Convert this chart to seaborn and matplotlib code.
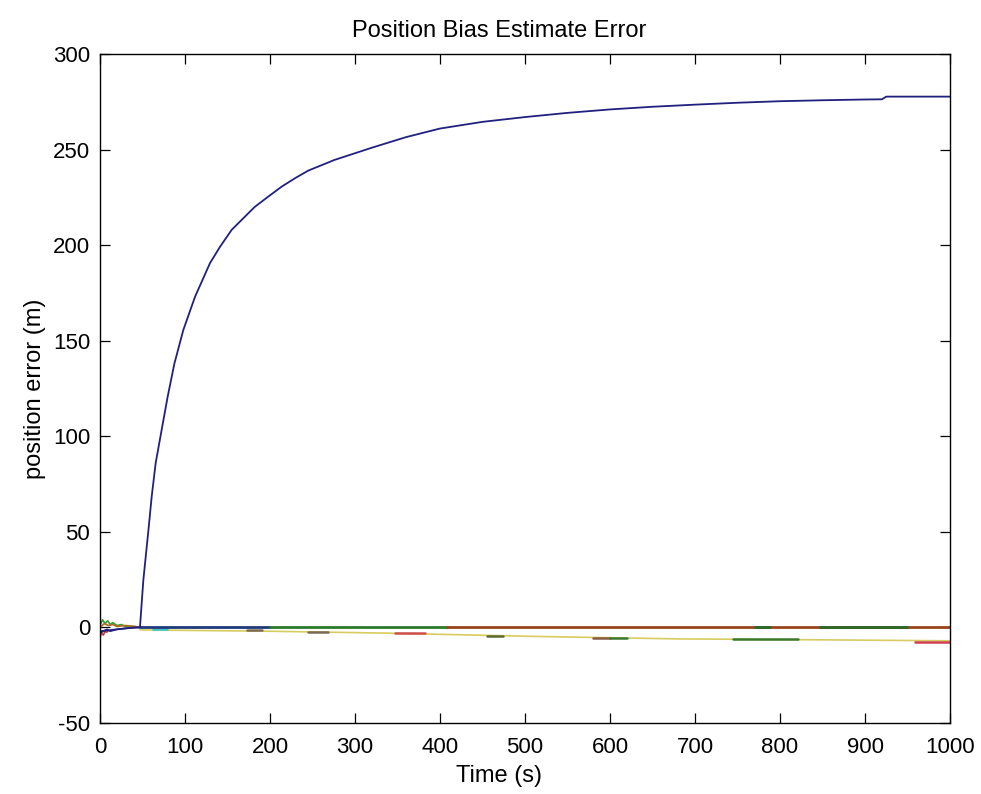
import matplotlib
matplotlib.use("Agg")
import matplotlib.pyplot as plt
import seaborn as sns

# ---- data ----
t_main = [0, 10, 20, 30, 40, 47, 51, 57, 60.8, 65.5, 72.5, 79.6, 87.5, 98, 111.8, 129.4, 141,
          154.9, 182, 198, 213.7, 229.4, 245, 276, 320, 360, 400, 450, 500, 550, 600, 650,
          700, 750, 800, 850, 900, 920, 925, 1000]
v_main = [-2, -1.5, -1, -0.5, 0, 0, 24.8, 51, 68.4, 86, 103.3, 120.7, 138, 155.6, 173, 190.6, 199,
          208, 220, 225.4, 230.6, 235, 239, 244.6, 251, 256.5, 261, 264.5, 267, 269.2, 271, 272.4,
          273.5, 274.5, 275.3, 275.8, 276.2, 276.3, 277.7, 277.7]

# noisy start (t < 50)
t_green_start = [0, 3, 6, 9, 12, 15, 20, 25, 30, 40, 47]
v_green_start = [1, 4, 2, 3.5, 1.5, 2.5, 1, 1.5, 0.5, 0.5, 0]
t_orange_start = [0, 5, 10, 15, 20, 30, 40, 50]
v_orange_start = [0, 2, 1, 1.5, 0.5, 1, 0.5, 0]
t_navy_start = [0, 4, 8, 12, 20, 30, 47]
v_navy_start = [-3, -2, -1, -2, -1, -0.5, 0]
t_red_start = [0, 2, 4, 6, 8, 10]
v_red_start = [-5, -3, -4, -2, -2.5, -1.5]

# lines near zero
t_navy_zero = [47, 200]
v_navy_zero = [0.3, 0.3]
t_green_zero = [200, 408]
v_green_zero = [0.3, 0.3]
t_brown_zero = [408, 1000]
v_brown_zero = [0.3, 0.3]
green_zero_segments = [([770, 788], [0.3, 0.3]), ([847, 949], [0.3, 0.3])]

# slowly drifting line
t_yellow = [47, 200, 340, 500, 680, 850, 1000]
v_yellow = [-1.3, -2.0, -3.0, -4.6, -6.0, -6.5, -7.0]

# short overlaid dashes
dash_t = [[62, 79], [173, 190], [245, 268], [347, 382], [455, 474],
          [580, 600], [600, 620], [745, 821], [959, 1000]]
dash_v = [[-1.0, -1.0], [-1.5, -1.5], [-2.2, -2.2], [-2.9, -2.9], [-4.3, -4.3],
          [-5.6, -5.6], [-5.6, -5.6], [-6.2, -6.2], [-7.4, -7.4]]
dash_c = ["#40c0c8", "#7a6a55", "#7a6a55", "#d05050", "#5a6a30",
          "#8a5a45", "#3a7a30", "#3a7a30", "#d04050"]

x_ticks = [0, 100, 200, 300, 400, 500, 600, 700, 800, 900, 1000]
y_ticks = [-50, 0, 50, 100, 150, 200, 250, 300]

# ---- plot ----
sns.set_style("white")
plt.rcParams["font.family"] = ["Liberation Sans", "DejaVu Sans"]
plt.rcParams["axes.unicode_minus"] = False

fig = plt.figure(figsize=(9.81, 7.94), dpi=100)
ax = fig.add_axes([100 / 981, 1 - 723 / 794, 850 / 981, (723 - 54) / 794])

kw = dict(ax=ax, legend=False, estimator=None, sort=False)
sns.lineplot(x=t_green_start, y=v_green_start, color="#3a9a30", linewidth=1.2, **kw)
sns.lineplot(x=t_orange_start, y=v_orange_start, color="#b06a20", linewidth=1.2, **kw)
sns.lineplot(x=t_red_start, y=v_red_start, color="#c04040", linewidth=1.2, **kw)
sns.lineplot(x=t_navy_start, y=v_navy_start, color="#2a2a8a", linewidth=1.2, **kw)

sns.lineplot(x=t_yellow, y=v_yellow, color="#d8cc60", linewidth=1.2, **kw)
for tt, vv, cc in zip(dash_t, dash_v, dash_c):
    sns.lineplot(x=tt, y=vv, color=cc, linewidth=1.8, **kw)

sns.lineplot(x=t_navy_zero, y=v_navy_zero, color="#1e3a7a", linewidth=2.0, **kw)
sns.lineplot(x=t_green_zero, y=v_green_zero, color="#2a7a2a", linewidth=2.0, **kw)
sns.lineplot(x=t_brown_zero, y=v_brown_zero, color="#9a4418", linewidth=2.0, **kw)
for tt, vv in green_zero_segments:
    sns.lineplot(x=tt, y=vv, color="#2a6a2a", linewidth=2.0, **kw)

sns.lineplot(x=t_main, y=v_main, color="#20207e", linewidth=1.3, **kw)

ax.set_xlim(0, 1000)
ax.set_ylim(-50, 300)
ax.set_xticks(x_ticks)
ax.set_yticks(y_ticks)
ax.tick_params(direction="in", length=7, width=0.9, top=True, right=True,
               bottom=True, left=True, labelsize=16, colors="black")
ax.tick_params(axis="x", pad=10)
ax.tick_params(axis="y", pad=7)
for s in ax.spines.values():
    s.set_visible(True)
    s.set_color("black")
    s.set_linewidth(1.0)

ax.set_title("Position Bias Estimate Error", fontsize=17, pad=12, x=0.47, color="black")
ax.set_xlabel("Time (s)", fontsize=17, labelpad=5, x=0.47, color="black")
ax.set_ylabel("position error (m)", fontsize=17, labelpad=5, color="black")

fig.savefig("out.png", dpi=100)
